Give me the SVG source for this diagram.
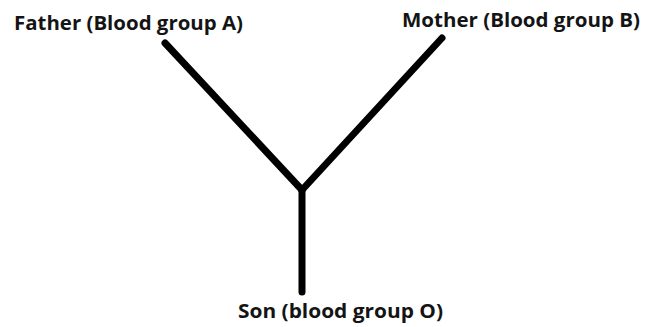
<svg xmlns="http://www.w3.org/2000/svg" width="660" height="327" viewBox="0 0 660 327">
  <style>
    .label { font-family: "Open Sans", "Liberation Sans", sans-serif; font-weight: 700; font-size: 19.5px; fill: #141414; }
    .link { stroke: #000; stroke-width: 7; stroke-linecap: round; stroke-linejoin: round; fill: none; }
  </style>
  <rect width="660" height="327" fill="#fff"/>
  <g id="connectors">
    <path class="link" d="M165 43 L302 190"/>
    <path class="link" d="M442 38 L302 190"/>
    <path class="link" d="M302 190 L302 292"/>
  </g>
  <g id="father">
    <text class="label" x="14" y="30" textLength="229" lengthAdjust="spacingAndGlyphs">Father (Blood group A)</text>
  </g>
  <g id="mother">
    <text class="label" x="402" y="27" textLength="238" lengthAdjust="spacingAndGlyphs">Mother (Blood group B)</text>
  </g>
  <g id="son">
    <text class="label" x="238" y="318" textLength="205" lengthAdjust="spacingAndGlyphs">Son (blood group O)</text>
  </g>
</svg>
